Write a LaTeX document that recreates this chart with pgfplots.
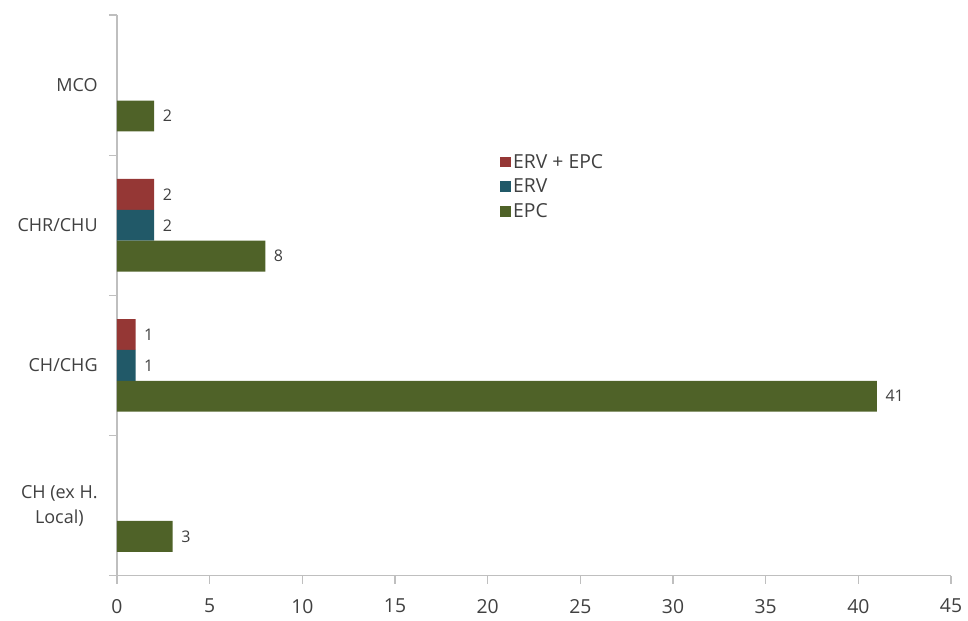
\documentclass[border=0pt]{standalone}
\usepackage{pgfplots}
\pgfplotsset{compat=1.18}
\usepackage{fontspec}
\setmainfont{Open Sans}

\definecolor{barred}{HTML}{953735}
\definecolor{barteal}{HTML}{215968}
\definecolor{bargreen}{HTML}{4F6228}
\definecolor{axisgray}{HTML}{BFBFBF}
\definecolor{textgray}{HTML}{404040}

\begin{document}
\begin{tikzpicture}
\begin{axis}[
  scale only axis,
  width=625.5pt, height=420.5pt,
  xbar,
  xmin=0, xmax=45,
  ymin=-0.5, ymax=3.5,
  clip=false,
  axis x line*=bottom,
  axis y line*=left,
  axis line style={axisgray, line width=0.8pt},
  tick style={axisgray, line width=0.8pt},
  major tick length=6pt,
  tick align=outside,
  xtick={0,5,...,45},
  /pgf/number format/assume math mode=true,
  xticklabel style={font=\fontsize{14.5}{16}\selectfont, text=textgray, inner sep=1pt, yshift=-10.3pt},
  % boundary ticks between groups; each label is lifted to the middle of its group
  ytick={-0.5,0.5,1.5,2.5,3.5},
  yticklabels={{CH (ex H.\\Local)},{CH/CHG},{CHR/CHU},{MCO},{}},
  yticklabel style={align=center, font=\fontsize{13.5}{19}\selectfont, text=textgray,
                    yshift=52.56pt, xshift=-5pt},
  bar width=0.22,
  nodes near coords,
  every node near coord/.append style={font=\fontsize{12}{14}\selectfont, text=textgray, xshift=3pt},
  legend style={at={(rel axis cs:0.454,0.762)}, anchor=north west, draw=none, fill=none,
                font=\fontsize{14.5}{16}\selectfont, text=textgray, row sep=2.5pt},
  legend cell align=left,
  legend image code/.code={\fill[#1, draw=none] (0pt,-4pt) rectangle (8pt,4pt);},
]
\addplot[fill=barred, draw=none, bar shift=0.22] coordinates {(2,2) (1,1)};
\addlegendentry{ERV + EPC}
\addplot[fill=barteal, draw=none, bar shift=0] coordinates {(2,2) (1,1)};
\addlegendentry{ERV}
\addplot[fill=bargreen, draw=none, bar shift=-0.22] coordinates {(3,0) (41,1) (8,2) (2,3)};
\addlegendentry{EPC}
% corners of the full drawing area
\coordinate (bbSW) at ([xshift=-87.75pt, yshift=-34pt]rel axis cs:0,0);
\coordinate (bbNE) at ([xshift=12.75pt, yshift=11.25pt]rel axis cs:1,1);
\end{axis}
\pgfresetboundingbox
\path (bbSW) rectangle (bbNE);
\end{tikzpicture}
\end{document}
